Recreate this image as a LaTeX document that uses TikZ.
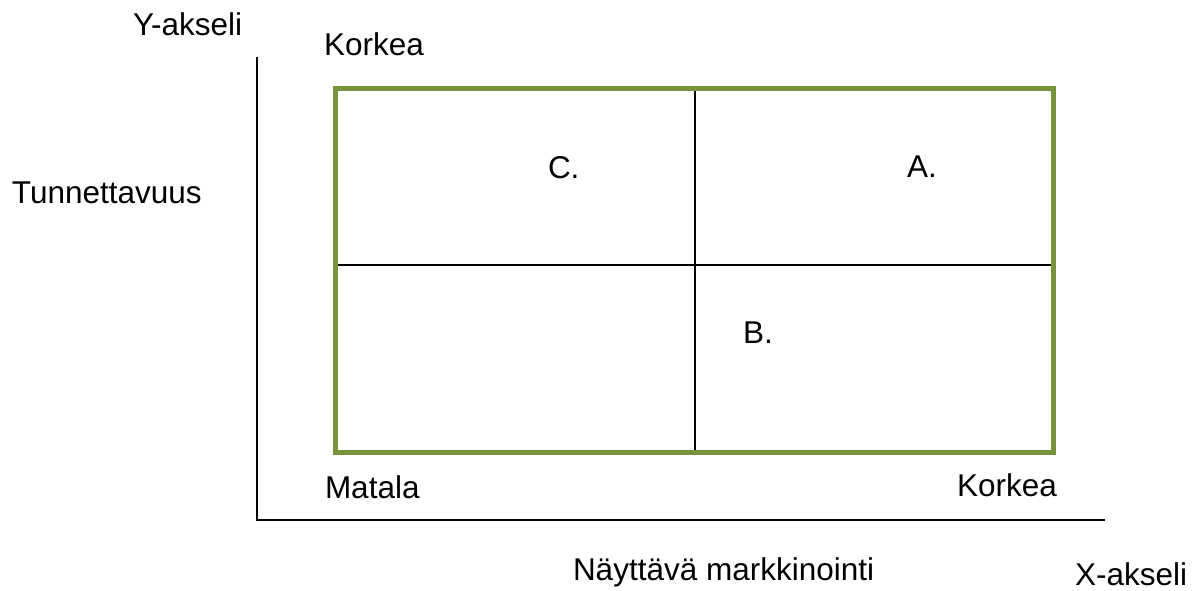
\documentclass[tikz,border=0pt]{standalone}
\usepackage{fontspec}
\setmainfont{Liberation Sans}
\definecolor{framegreen}{RGB}{119,147,60}
\begin{document}
\begin{tikzpicture}[x=1pt,y=-1pt,
  lbl/.style={anchor=base west,inner sep=0pt,outer sep=0pt,
              font=\fontsize{31.5}{38}\selectfont},
  axisline/.style={draw=black,line width=1.5pt},
  divider/.style={draw=black,line width=2pt},
  frame/.style={draw=framegreen,line width=5pt,line join=miter}]
  \useasboundingbox (0,0) rectangle (1203,590);

  % axes
  \coordinate (yTop) at (257,57);
  \coordinate (origin) at (257,520);
  \coordinate (xEnd) at (1105,520);
  \draw[axisline] (yTop) -- (origin) -- (xEnd);

  % quadrant frame
  \coordinate (fTL) at (335.5,88);
  \coordinate (fBR) at (1053.5,452.5);
  \coordinate (midTop) at (695,88);
  \coordinate (midBot) at (695,452.5);
  \coordinate (midL) at (335.5,265);
  \coordinate (midR) at (1053.5,265);
  \draw[divider] (midTop) -- (midBot);
  \draw[divider] (midL) -- (midR);
  \draw[frame] (fTL) rectangle (fBR);

  % labels
  \node[lbl] (yaxis) at (133,35) {Y-akseli};
  \node[lbl] (yhigh) at (324,55) {Korkea};
  \node[lbl] (ytitle) at (12,203) {Tunnettavuus};
  \node[lbl] (qC) at (548,178) {C.};
  \node[lbl] (qA) at (907,177) {A.};
  \node[lbl] (qB) at (743,343) {B.};
  \node[lbl] (low) at (325,498) {Matala};
  \node[lbl] (xhigh) at (957,496) {Korkea};
  \node[lbl] (xtitle) at (573,580) {Näyttävä markkinointi};
  \node[lbl] (xaxis) at (1075,585) {X-akseli};
\end{tikzpicture}
\end{document}
